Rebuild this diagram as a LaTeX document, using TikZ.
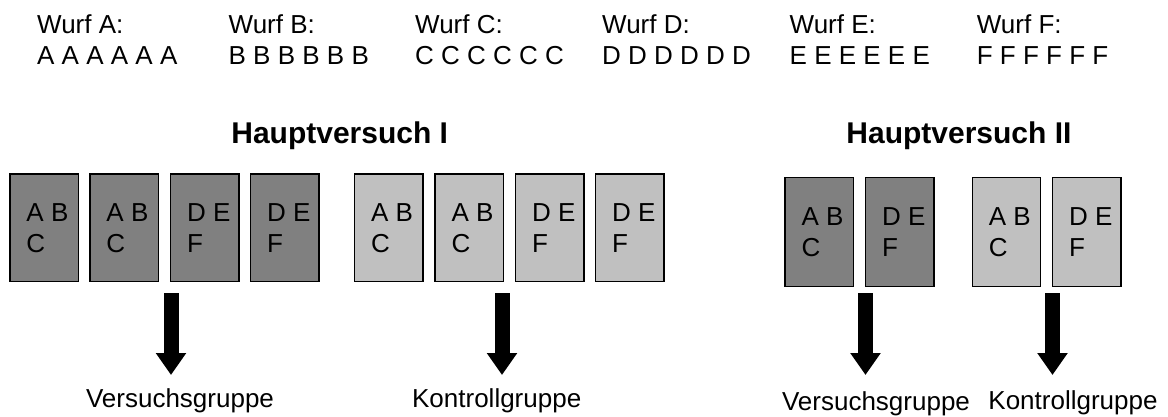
\documentclass[tikz,border=0pt]{standalone}
\usepackage{fontspec}
\setmainfont{Liberation Sans}
\usetikzlibrary{calc,arrows.meta}
\definecolor{darkbox}{RGB}{128,128,128}
\definecolor{lightbox}{RGB}{192,192,192}
\tikzset{
  boxshape/.style={draw=black,line width=1.2bp,inner sep=0pt,anchor=north west,minimum width=68.4bp},
  hvone/.style={boxshape,minimum height=107.4bp},
  hvtwo/.style={boxshape,minimum height=109bp},
  btxt/.style={inner sep=0pt,anchor=base west,font=\fontsize{26bp}{30bp}\selectfont},
  toptxt/.style={inner sep=0pt,anchor=base west,font=\fontsize{26bp}{30bp}\selectfont},
  headtxt/.style={inner sep=0pt,anchor=base east,font=\fontsize{30bp}{34bp}\selectfont\bfseries},
  grouptxt/.style={inner sep=0pt,anchor=base,font=\fontsize{26bp}{30bp}\selectfont},
  bigarrow/.style={line width=15bp,-{Triangle[width=29bp,length=22bp]}}
}
\newcommand\pbox[7]{%
  \node[#4,fill=#5] (#1) at (#2,#3) {};
  \node[btxt] (#1a) at ($(#1.north west)+(17,48.4)$) {#6};
  \node[btxt] (#1b) at ($(#1.north west)+(17,79.4)$) {#7};
}
\begin{document}
\begin{tikzpicture}[x=1bp,y=-1bp]
\useasboundingbox (0,0) rectangle (1168,416);
% top row
\node[toptxt] (wA) at (37,33.3) {Wurf A:};
\node[toptxt] (sA) at (37,64.5) {A A A A A A};
\node[toptxt] (wB) at (228.5,33.3) {Wurf B:};
\node[toptxt] (sB) at (228.5,64.5) {B B B B B B};
\node[toptxt] (wC) at (415,33.3) {Wurf C:};
\node[toptxt] (sC) at (415,64.5) {C C C C C C};
\node[toptxt] (wD) at (602,33.3) {Wurf D:};
\node[toptxt] (sD) at (602,64.5) {D D D D D D};
\node[toptxt] (wE) at (789.5,33.3) {Wurf E:};
\node[toptxt] (sE) at (789.5,64.5) {E E E E E E};
\node[toptxt] (wF) at (976.7,33.3) {Wurf F:};
\node[toptxt] (sF) at (976.7,64.5) {F F F F F F};
% headers
\node[headtxt] (h1) at (448.3,143.5) {Hauptversuch I};
\node[headtxt] (h2) at (1071.7,143.5) {Hauptversuch II};
% Hauptversuch I boxes
\pbox{b1}{9.3}{173.3}{hvone}{darkbox}{A B}{C}
\pbox{b2}{89.3}{173.3}{hvone}{darkbox}{A B}{C}
\pbox{b3}{170}{173.3}{hvone}{darkbox}{D E}{F}
\pbox{b4}{250}{173.3}{hvone}{darkbox}{D E}{F}
\pbox{b5}{354}{173.3}{hvone}{lightbox}{A B}{C}
\pbox{b6}{434.3}{173.3}{hvone}{lightbox}{A B}{C}
\pbox{b7}{515}{173.3}{hvone}{lightbox}{D E}{F}
\pbox{b8}{595}{173.3}{hvone}{lightbox}{D E}{F}
% Hauptversuch II boxes
\pbox{b9}{784.3}{176.7}{hvtwo}{darkbox}{A B}{C}
\pbox{b10}{865}{176.7}{hvtwo}{darkbox}{D E}{F}
\pbox{b11}{971.7}{176.7}{hvtwo}{lightbox}{A B}{C}
\pbox{b12}{1052}{176.7}{hvtwo}{lightbox}{D E}{F}
% group labels
\node[grouptxt] (g1) at (180,407) {Versuchsgruppe};
\node[grouptxt] (g2) at (496.7,407) {Kontrollgruppe};
\node[grouptxt] (g3) at (876,410) {Versuchsgruppe};
\node[grouptxt] (g4) at (1073,409) {Kontrollgruppe};
% arrows
\coordinate (a1s) at (171,293.3); \coordinate (a1e) at (171,375);
\coordinate (a2s) at (502,293.3); \coordinate (a2e) at (502,375);
\coordinate (a3s) at (865.5,293.3); \coordinate (a3e) at (865.5,375);
\coordinate (a4s) at (1052.5,293.3); \coordinate (a4e) at (1052.5,375);
\draw[bigarrow] (a1s) -- (a1e);
\draw[bigarrow] (a2s) -- (a2e);
\draw[bigarrow] (a3s) -- (a3e);
\draw[bigarrow] (a4s) -- (a4e);
\end{tikzpicture}
\end{document}
